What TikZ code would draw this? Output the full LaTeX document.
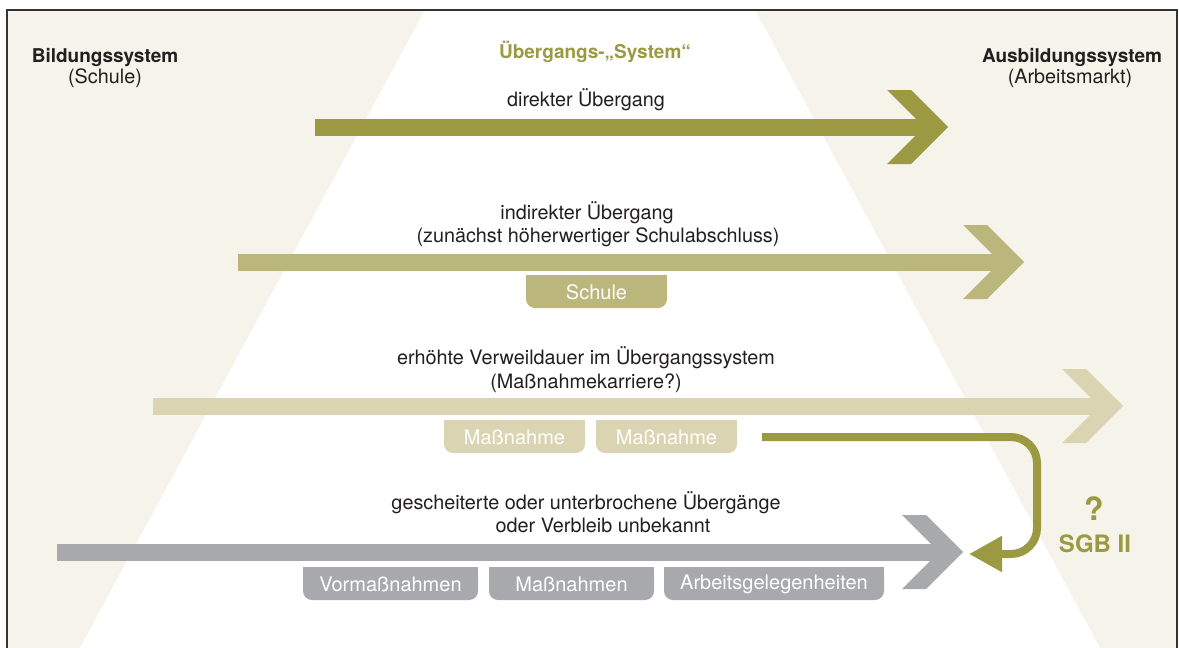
\documentclass[tikz,border=0pt]{standalone}
\usepackage{fontspec}
\setmainfont{TeX Gyre Heros}
\usetikzlibrary{arrows.meta,positioning,calc}
\definecolor{beige}{HTML}{F6F3EA}
\definecolor{oliveA}{HTML}{9B9A42}
\definecolor{oliveB}{HTML}{BBB67B}
\definecolor{oliveC}{HTML}{DAD4B2}
\definecolor{greyA}{HTML}{A8A9AC}
\definecolor{ink}{HTML}{231F20}
\definecolor{framegrey}{HTML}{333333}
\begin{document}
\begin{tikzpicture} [
                x=1pt, y=-1pt,
                txt/.style={font=\fontsize{19.8}{22}\selectfont, text=ink, inner sep=0pt, anchor=base},
                headtxt/.style={txt, font=\fontsize{19}{22}\selectfont\bfseries},
                tabtxt/.style={font=\fontsize{20}{22}\selectfont, text=white, inner sep=0pt},
                sgbtxt/.style={font=\fontsize{24}{26}\selectfont\bfseries, text=oliveA, inner sep=0pt, anchor=base},
            ]
            \useasboundingbox (0,0) rectangle (1179,648);
            % First the background: beige frame with the white funnel
            \fill[beige] (7,10) rectangle (1177,648);
            \fill[white] (425,10) -- (755,10) -- (1100,648) -- (80,648) -- cycle;
            \draw[framegrey, line width=1.5pt] (7,648) -- (7,10) -- (1177,10) -- (1177,648);
            % The four big arrows: shaft and chevron head
            \foreach \name/\xs/\xt/\yy/\col in {
                    direkt/315/948/127/oliveA, indirekt/238/1024/262/oliveB,
                    verweil/153/1123/406/oliveC, scheiter/57/963/552/greyA} {
                \coordinate (\name-start) at (\xs,\yy);
                \coordinate (\name-tip) at (\xt,\yy);
                \fill[\col] ($(\name-start)+(0,-8.5)$) rectangle ($(\name-tip)+(-18,8.5)$);
                \fill[\col] (\name-tip) -- ++(-37,-37) -- ++(-24,0) -- ++(37,37)
                    -- ++(-37,37) -- ++(24,0) -- cycle;
            }
            % Tabs below the arrows, rounded at the bottom only
            \foreach \name/\xa/\xb/\ya/\col/\label in {
                    schule/526/667/275/oliveB/Schule,
                    massnahmeA/444/585/420/oliveC/Maßnahme, massnahmeB/596/737/420/oliveC/Maßnahme,
                    vormass/303/478/567/greyA/Vormaßnahmen, massnahmen/489/654/567/greyA/Maßnahmen,
                    arbeit/664/884/567/greyA/Arbeitsgelegenheiten} {
                \fill[\col, rounded corners=9pt] (\xa,\ya) rectangle (\xb,\ya+33);
                \fill[\col] (\xa,\ya) rectangle (\xb,\ya+12);
                \node[tabtxt] (\name) at ({(\xa+\xb)/2},\ya+17) {\label};
            }
            % Headings
            \node[headtxt] (bildung) at (105,62) {Bildungssystem};
            \node[txt] (bildung-sub) at (105,83) {(Schule)};
            \node[headtxt, text=oliveA] (uebergang) at (595,58) {Übergangs-„System“};
            \node[headtxt] (ausbildung) at (1072,62) {Ausbildungssystem};
            \node[txt] (ausbildung-sub) at (1070,83) {(Arbeitsmarkt)};
            % Texts above the arrows
            \foreach \name/\pos/\text in {
                    {direkt-txt/(586,106)/direkter Übergang},
                    {indirekt-txt/(587,219)/indirekter Übergang},
                    {indirekt-sub/(598,242)/(zunächst höherwertiger Schulabschluss)},
                    {verweil-txt/(586,364)/erhöhte Verweildauer im Übergangssystem},
                    {verweil-sub/(586,388)/(Maßnahmekarriere?)},
                    {scheiter-txt/(586,509)/gescheiterte oder unterbrochene Übergänge},
                    {scheiter-sub/(603,532)/oder Verbleib unbekannt}}
                \node[txt] (\name) at \pos {\text};
            % Detour to SGB II
            \node[sgbtxt, font=\fontsize{32}{34}\selectfont\bfseries] (frage) at (1094,520) {?};
            \node[sgbtxt] (sgb) at (1095,552) {SGB II};
            \coordinate (sgb-from) at (762,437);
            \coordinate (sgb-to) at (969,554);
            \coordinate (sgb-bend) at (1037,0);
            \draw[oliveA, line width=8pt, rounded corners=26pt, -{Triangle[length=33pt,width=34pt]}]
                (sgb-from) -- (sgb-from -| sgb-bend) -- (sgb-to -| sgb-bend) -- (sgb-to);
        \end{tikzpicture}
\end{document}
